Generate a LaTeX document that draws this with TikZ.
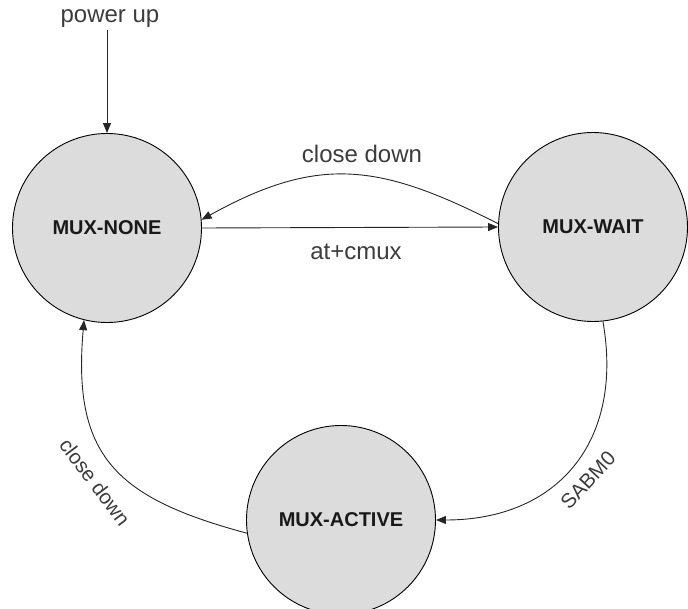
\documentclass[tikz,border=0pt]{standalone}
\usepackage{fontspec}
\setmainfont{Liberation Sans}
\usetikzlibrary{arrows.meta}

\definecolor{statefill}{RGB}{220,220,220}
\definecolor{labelgray}{RGB}{60,60,60}

\tikzset{
  state/.style={circle, draw=black, line width=0.9pt, fill=statefill,
    minimum size=189pt, inner sep=0pt,
    font=\fontsize{20}{22}\selectfont\bfseries, text=black!90},
  trans/.style={draw=black!85, line width=0.9pt,
    -{Triangle[length=10pt,width=8pt]}},
  edgelabel/.style={inner sep=0pt, font=\fontsize{24}{26}\selectfont,
    text=labelgray},
  sidelabel/.style={edgelabel, font=\fontsize{20.5}{22}\selectfont}
}

\begin{document}
\begin{tikzpicture}[x=1pt,y=1pt]
  \useasboundingbox (0,0) rectangle (688,-609);

  % states
  \node[state] (none)   at (107,-228) {MUX-NONE};
  \node[state] (wait)   at (593,-227) {MUX-WAIT};
  \node[state] (active) at (341,-520) {MUX-ACTIVE};

  % power-up entry
  \node[edgelabel] (pwr) at (110,-19) {power up};
  \coordinate (pwrstart) at (107,-30);
  \draw[trans] (pwrstart) -- (none.north);

  % transitions
  \draw[trans] (none.east) -- (wait.west);
  \node[edgelabel] (lcmux) at (356,-252) {at+cmux};

  \draw[trans] (wait.178) to[out=153,in=29,looseness=1.15] (none.5);
  \node[edgelabel] (lclose1) at (362,-154) {close down};

  \draw[trans] (wait.-84) to[out=-80,in=0,looseness=1.2] (active.east);
  \node[sidelabel, rotate=47] (lsabm) at (588,-480) {SABM0};

  \draw[trans] (active.188) to[out=165,in=-95,looseness=1.3] (none.-104);
  \node[sidelabel, rotate=-53] (lclose2) at (95,-482) {close down};
\end{tikzpicture}
\end{document}
